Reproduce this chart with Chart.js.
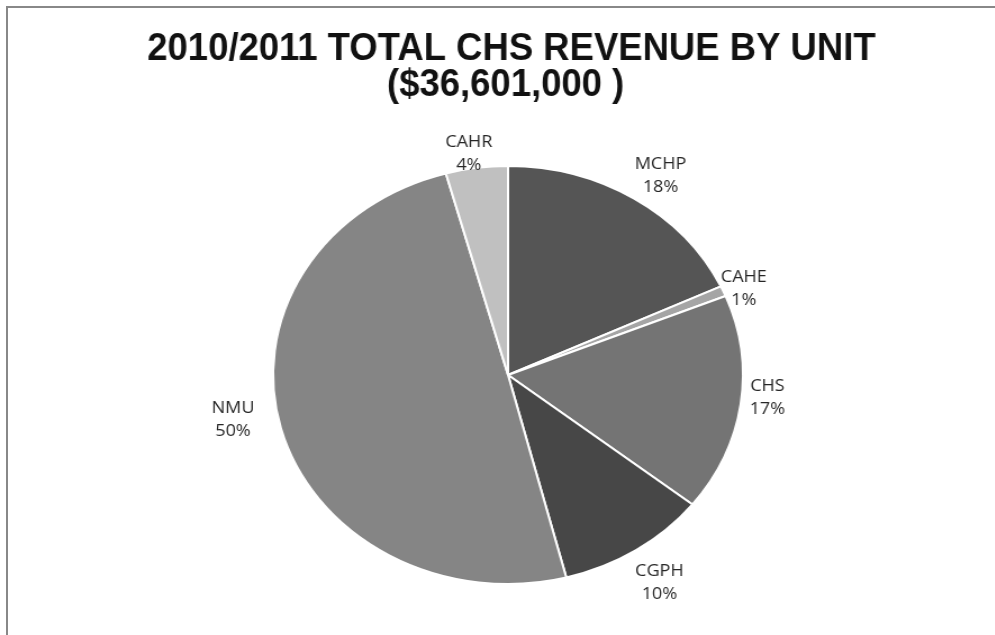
<!DOCTYPE html>
<html>
<head>
<meta charset="utf-8">
<script src="https://cdn.jsdelivr.net/npm/chart.js@4.4.1/dist/chart.umd.min.js"></script>
<style>
  html, body { margin: 0; padding: 0; background: #fff; overflow: hidden; }
  #frame {
    position: absolute; left: 6px; top: 6px; width: 989px; height: 629px;
    border-left: 2px solid #888; border-top: 2px solid #888; box-sizing: border-box;
  }
  /* the original picture is stretched sideways, so the whole chart is too */
  #wrap {
    position: absolute; left: 0; top: 0; width: 885px; height: 635px;
    transform: scaleX(1.124); transform-origin: 0 0;
  }
</style>
</head>
<body>
<div id="frame"></div>
<div id="wrap"><canvas id="pie"></canvas></div>
<script>
// revenue by unit, in $ thousands
const units    = ['MCHP', 'CAHE', 'CHS', 'CGPH', 'NMU', 'CAHR'];
const revenue  = [6601, 290, 6150, 3800, 18200, 1560];
const greys    = ['#555555', '#a5a5a5', '#747474', '#474747', '#858585', '#c0c0c0'];
const titleLines = ['2010/2011 TOTAL CHS REVENUE BY UNIT', '($36,601,000 )'];

// label placement: gap outside the rim, plus a small nudge like Excel's layout
const labelGap   = [27, 20, 24, 38, 39, 15];
const labelNudge = [[9, 0], [0, 5], [0, -10], [0, 0], [-5, -19], [-5, 0]];

const total = revenue.reduce((a, b) => a + b, 0);

// Calibri-like narrow bold title: squeeze Arial Bold sideways
const narrowTitle = {
  id: 'narrowTitle',
  afterDraw(chart) {
    const ctx = chart.ctx;
    const cx = (chart.chartArea.left + chart.chartArea.right) / 2 + 3;
    ctx.save();
    ctx.fillStyle = '#111';
    ctx.font = 'bold 38px "Liberation Sans", Arial, sans-serif';
    ctx.textAlign = 'center';
    ctx.textBaseline = 'alphabetic';
    const squeeze = 648 / ctx.measureText(titleLines[0]).width;
    ctx.translate(cx, 0);
    ctx.scale(squeeze, 1);
    ctx.fillText(titleLines[0], 0, 60);
    ctx.fillText(titleLines[1], -6, 96);
    ctx.restore();
  }
};

const outsideLabels = {
  id: 'outsideLabels',
  afterDatasetsDraw(chart) {
    const ctx = chart.ctx;
    const arcs = chart.getDatasetMeta(0).data;
    ctx.save();
    ctx.fillStyle = '#262626';
    ctx.font = '16px "Open Sans", sans-serif';
    ctx.textAlign = 'center';
    ctx.textBaseline = 'middle';
    arcs.forEach((arc, i) => {
      const mid = (arc.startAngle + arc.endAngle) / 2;
      const r = arc.outerRadius + labelGap[i];
      const x = arc.x + Math.cos(mid) * r + labelNudge[i][0];
      const y = arc.y + Math.sin(mid) * r + labelNudge[i][1];
      const pct = Math.round(revenue[i] / total * 100) + '%';
      ctx.fillText(units[i], x, y - 11);
      ctx.fillText(pct, x, y + 12);
    });
    ctx.restore();
  }
};

new Chart(document.getElementById('pie'), {
  type: 'pie',
  data: {
    labels: units,
    datasets: [{
      data: revenue,
      backgroundColor: greys,
      borderColor: '#ffffff',
      borderWidth: 2,
    }],
  },
  options: {
    responsive: true,
    maintainAspectRatio: false,
    animation: false,
    layout: { padding: { top: 165, bottom: 50, left: 19, right: 0 } },
    plugins: {
      legend: { display: false },
      tooltip: { enabled: false },
      title: { display: false },
    },
  },
  plugins: [outsideLabels, narrowTitle],
});
</script>
</body>
</html>
